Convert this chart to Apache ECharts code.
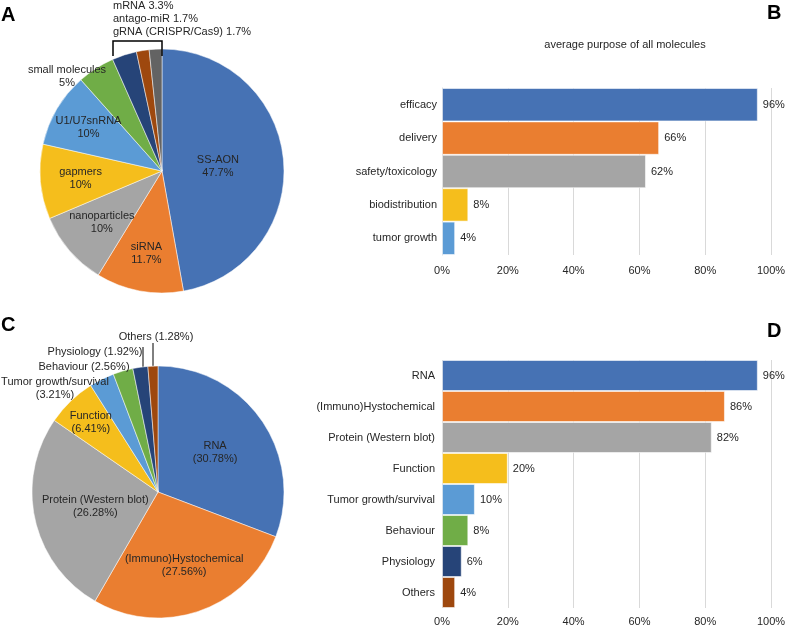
<!DOCTYPE html>
<html>
<head>
<meta charset="utf-8">
<script src="https://cdn.jsdelivr.net/npm/echarts@6/dist/echarts.min.js"></script>
<style>
html,body{margin:0;padding:0;background:#fff;}
#chart{width:789px;height:627px;}
</style>
</head>
<body>
<div id="chart"></div>
<script>
// ---------- data ----------
const pieACategories = ['SS-AON', 'siRNA', 'nanoparticles', 'gapmers', 'U1/U7snRNA', 'small molecules', 'mRNA', 'antago-miR', 'gRNA (CRISPR/Cas9)'];
const pieAValues = [47.7, 11.7, 10, 10, 10, 5, 3.3, 1.7, 1.7];

const pieCCategories = ['RNA', '(Immuno)Hystochemical', 'Protein (Western blot)', 'Function', 'Tumor growth/survival', 'Behaviour', 'Physiology', 'Others'];
const pieCValues = [30.78, 27.56, 26.28, 6.41, 3.21, 2.56, 1.92, 1.28];

const barBTitle = 'average purpose of all molecules';
const barBCategories = ['efficacy', 'delivery', 'safety/toxicology', 'biodistribution', 'tumor growth'];
const barBValues = [96, 66, 62, 8, 4];

const barDCategories = ['RNA', '(Immuno)Hystochemical', 'Protein (Western blot)', 'Function', 'Tumor growth/survival', 'Behaviour', 'Physiology', 'Others'];
const barDValues = [96, 86, 82, 20, 10, 8, 6, 4];

const xAxisTicks = [0, 20, 40, 60, 80, 100];
const panelLetters = ['A', 'B', 'C', 'D'];

// ---------- styles ----------
const FONT = "'Liberation Sans', Arial, sans-serif";
const TXT = '#262626';
const colorsA = ['#4672b4', '#ea7e30', '#a5a5a5', '#f5be1c', '#5b9bd5', '#70ad47', '#264478', '#9e480e', '#636363'];
const colorsC = ['#4672b4', '#ea7e30', '#a5a5a5', '#f5be1c', '#5b9bd5', '#70ad47', '#264478', '#9e480e'];
const colorsB = ['#4672b4', '#ea7e30', '#a5a5a5', '#f5be1c', '#5b9bd5'];
const colorsD = ['#4672b4', '#ea7e30', '#a5a5a5', '#f5be1c', '#5b9bd5', '#70ad47', '#264478', '#9e480e'];

const pieACenter = [162, 171], pieARadius = 122;
const pieCCenter = [158, 492], pieCRadius = 126;

// label placement: f = radial fraction, or fixed position
const placeA = [
  {f: 0.46}, {f: 0.69}, {f: 0.65}, {f: 0.67}, {f: 0.70},
  {fixed: true, x: 67, y: 76, align: 'center'},
  {fixed: true, x: 113, y: 6, align: 'left'},
  {fixed: true, x: 113, y: 19, align: 'left'},
  {fixed: true, x: 113, y: 32, align: 'left'}
];
const singleLineA = [false, false, false, false, false, false, true, true, true];

const placeC = [
  {f: 0.55}, {f: 0.62}, {f: 0.51}, {f: 0.77},
  {fixed: true, x: 55, y: 388, align: 'center'},
  {fixed: true, x: 84, y: 367, align: 'center'},
  {fixed: true, x: 95, y: 352, align: 'center', line: [[143, 347], [143, 357], [143, 367]]},
  {fixed: true, x: 156, y: 337, align: 'center', line: [[153, 343], [153, 355], [153, 366]]}
];
const singleLineC = [false, false, false, false, false, true, true, true];
const outsideC = [false, false, false, false, false, false, true, true];

function pieLabelLayout(center, radius, values, placements) {
  const total = values.reduce((a, b) => a + b, 0);
  const cum = [];
  let s = 0;
  values.forEach(v => { cum.push(s); s += v; });
  return function (params) {
    const i = params.dataIndex;
    const p = placements[i];
    if (p.fixed) {
      const o = {x: p.x, y: p.y, align: p.align, verticalAlign: 'middle'};
      if (p.line) o.labelLinePoints = p.line;
      return o;
    }
    const ang = (cum[i] + values[i] / 2) / total * 2 * Math.PI;
    return {
      x: center[0] + p.f * radius * Math.sin(ang),
      y: center[1] - p.f * radius * Math.cos(ang),
      align: 'center', verticalAlign: 'middle'
    };
  };
}

const pieAData = pieACategories.map((n, i) => ({
  name: n, value: pieAValues[i],
  itemStyle: {color: colorsA[i]}
}));
const pieCData = pieCCategories.map((n, i) => {
  const d = {name: n, value: pieCValues[i], itemStyle: {color: colorsC[i]}};
  if (outsideC[i]) {
    d.label = {position: 'outside'};
    d.labelLine = {show: true, lineStyle: {color: '#000', width: 1}};
  }
  return d;
});

const barLabel = {
  show: true, position: 'right', distance: 5,
  formatter: p => p.value + '%',
  fontFamily: FONT, fontSize: 11, color: TXT
};

function barData(values, colors) {
  return values.map((v, i) => ({
    value: v,
    itemStyle: {color: colors[i], borderColor: 'rgba(255,255,255,0.55)', borderWidth: 1}
  }));
}

const xAxisBase = {
  type: 'value',
  min: xAxisTicks[0], max: xAxisTicks[xAxisTicks.length - 1],
  interval: xAxisTicks[1] - xAxisTicks[0],
  axisLine: {show: false}, axisTick: {show: false},
  splitLine: {show: true, lineStyle: {color: '#d9d9d9', width: 1}},
  axisLabel: {formatter: '{value}%', fontFamily: FONT, fontSize: 11, color: TXT}
};

const chart = echarts.init(document.getElementById('chart'), null, {renderer: 'canvas'});

const option = {
  backgroundColor: '#fff',
  animation: false,
  textStyle: {fontFamily: FONT},
  title: [{
    text: barBTitle,
    left: 620, top: 34, textAlign: 'center',
    textStyle: {fontFamily: FONT, fontSize: 11, fontWeight: 'normal', color: TXT}
  }],
  grid: [
    {left: 442, right: 18, top: 88, height: 167},
    {left: 442, right: 18, top: 360, height: 248}
  ],
  xAxis: [
    Object.assign({gridIndex: 0}, xAxisBase, {axisLabel: Object.assign({}, xAxisBase.axisLabel, {margin: 10})}),
    Object.assign({gridIndex: 1}, xAxisBase, {axisLabel: Object.assign({}, xAxisBase.axisLabel, {margin: 8})})
  ],
  yAxis: [
    {
      gridIndex: 0, type: 'category', inverse: true, data: barBCategories,
      offset: 14,
      axisLine: {show: true, lineStyle: {color: '#d9d9d9'}},
      axisTick: {show: false},
      axisLabel: {margin: -9, fontFamily: FONT, fontSize: 11, color: TXT}
    },
    {
      gridIndex: 1, type: 'category', inverse: true, data: barDCategories,
      axisLine: {show: false}, axisTick: {show: false},
      axisLabel: {margin: 7, fontFamily: FONT, fontSize: 11, color: TXT}
    }
  ],
  series: [
    {
      type: 'pie', center: pieACenter, radius: pieARadius,
      startAngle: 90, clockwise: true, avoidLabelOverlap: false,
      data: pieAData,
      itemStyle: {borderColor: '#fff', borderWidth: 0.5},
      label: {
        show: true, position: 'inside',
        fontFamily: FONT, fontSize: 11, lineHeight: 13, color: TXT,
        textBorderWidth: 0,
        formatter: p => singleLineA[p.dataIndex] ? (p.name + ' ' + p.value + '%') : (p.name + '\n' + p.value + '%')
      },
      labelLine: {show: false},
      labelLayout: pieLabelLayout(pieACenter, pieARadius, pieAValues, placeA),
      emphasis: {disabled: true}
    },
    {
      type: 'pie', center: pieCCenter, radius: pieCRadius,
      startAngle: 90, clockwise: true, avoidLabelOverlap: false,
      data: pieCData,
      itemStyle: {borderColor: '#fff', borderWidth: 0.5},
      label: {
        show: true, position: 'inside',
        fontFamily: FONT, fontSize: 11, lineHeight: 13, color: TXT,
        textBorderWidth: 0,
        formatter: p => singleLineC[p.dataIndex] ? (p.name + ' (' + p.value + '%)') : (p.name + '\n(' + p.value + '%)')
      },
      labelLine: {show: false},
      labelLayout: pieLabelLayout(pieCCenter, pieCRadius, pieCValues, placeC),
      emphasis: {disabled: true}
    },
    {
      type: 'bar', xAxisIndex: 0, yAxisIndex: 0,
      data: barData(barBValues, colorsB),
      barCategoryGap: '0%', label: barLabel,
      emphasis: {disabled: true}
    },
    {
      type: 'bar', xAxisIndex: 1, yAxisIndex: 1,
      data: barData(barDValues, colorsD),
      barCategoryGap: '0%', label: barLabel,
      emphasis: {disabled: true}
    }
  ],
  graphic: [
    {type: 'polyline', shape: {points: [[113, 56], [113, 41], [162, 41], [162, 56]]},
     style: {stroke: '#000', lineWidth: 1.5, fill: null}, z: 100},
    {type: 'text', left: 1, top: 5, style: {text: panelLetters[0], font: 'bold 20px ' + FONT, fill: '#000'}},
    {type: 'text', left: 767, top: 3, style: {text: panelLetters[1], font: 'bold 20px ' + FONT, fill: '#000'}},
    {type: 'text', left: 1, top: 315, style: {text: panelLetters[2], font: 'bold 20px ' + FONT, fill: '#000'}},
    {type: 'text', left: 767, top: 321, style: {text: panelLetters[3], font: 'bold 20px ' + FONT, fill: '#000'}}
  ]
};

chart.setOption(option);
</script>
</body>
</html>
